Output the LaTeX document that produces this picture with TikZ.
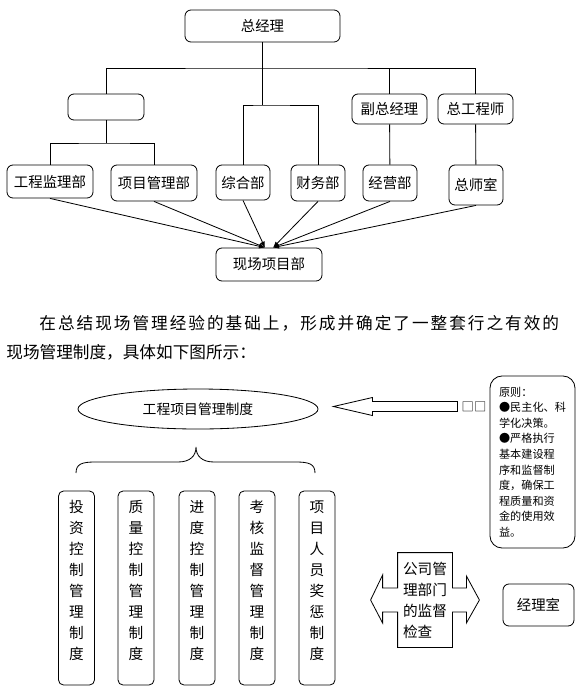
\documentclass[tikz,border=0pt]{standalone}
\usepackage{fontspec}
\setmainfont{Noto Sans CJK SC}
\newfontfamily\widecjk[LetterSpace=12]{Noto Sans CJK SC}
\usetikzlibrary{calc,arrows.meta,shapes.geometric}
\newcommand{\vt}[1]{\raisebox{1.4mm}[0pt][0pt]{\parbox{6mm}{\centering\fontsize{12.5pt}{17.9pt}\selectfont #1}}}

\begin{document}
\begin{tikzpicture}[x=0.3mm,y=-0.3mm,line width=0.7pt,
		orgbox/.style={draw,rounded corners=1.8mm,inner sep=0pt,font=\fontsize{12.3pt}{14pt}\selectfont},
		sz/.style 2 args={minimum width=#1*0.3mm,minimum height=#2*0.3mm},
		vbox/.style={draw,rounded corners=1.5mm,inner sep=0pt,minimum width=10.8mm,minimum height=58.2mm},
		toxc/.style={-{Latex[length=1.8mm,width=1.4mm]}}]
			%%%%% START %%%%%
			\useasboundingbox (0,0) rectangle (581,692);
			
			\node[orgbox,sz={155}{32}] (zjl) at (262.5,26) {总经理};
			\node[orgbox,sz={76}{26}] (kb) at (106,107) {};
			\node[orgbox,sz={75}{30}] (fzjl) at (389.5,109) {副总经理};
			\node[orgbox,sz={75}{30}] (zgcs) at (475.5,109) {总工程师};
			
			\node[orgbox,sz={86}{33}] (gcjl) at (50,181.5) {工程监理部};
			\node[orgbox,sz={86}{36}] (xmgl) at (154,183) {项目管理部};
			\node[orgbox,sz={54}{35}] (zhb) at (243,182.5) {综合部};
			\node[orgbox,sz={54}{36}] (cwb) at (318,183) {财务部};
			\node[orgbox,sz={54}{36}] (jyb) at (390,183) {经营部};
			\node[orgbox,sz={54}{40}] (zss) at (476,185) {总师室};
			\node[orgbox,sz={106}{33}] (xc) at (269,264.5) {现场项目部};
			
			\coordinate (bus) at (262.5,68);
			\coordinate (mid) at (262.5,105);
			\coordinate (lbus) at (106,143);
			\draw (zjl) -- (mid);
			\draw (kb) |- (bus) -| (zgcs);
			\draw (fzjl) -- (fzjl |- bus);
			\draw (zhb) |- (mid) -| (cwb);
			\draw (kb) -- (lbus);
			\draw (gcjl) |- (lbus) -| (xmgl);
			\draw (fzjl) -- (jyb);
			\draw (zgcs) -- (zss);
			
			\coordinate (inl) at ($(xc.north)+(-4,0)$);
			\coordinate (inr) at ($(xc.north)+(4,0)$);
			\foreach \s in {gcjl,xmgl,zhb} \draw[toxc] (\s.south) -- (inl);
			\foreach \s in {cwb,jyb,zss} \draw[toxc] (\s.south) -- (inr);
			
			\node[anchor=west,inner sep=0pt,font=\widecjk\fontsize{14.2pt}{16pt}\selectfont] (p1) at (39,323) {在总结现场管理经验的基础上，形成并确定了一整套行之有效的};
			\node[anchor=west,inner sep=0pt,font=\fontsize{14.2pt}{16pt}\selectfont] (p2) at (6,352) {现场管理制度，具体如下图所示：};
			
			\node[draw,ellipse,sz={240}{40},inner sep=0pt,font=\fontsize{11.8pt}{14pt}\selectfont] (zd) at (198,409) {工程项目管理制度};
			\node[inner sep=0pt,font=\fontsize{10.5pt}{12pt}\selectfont] (qk) at (474,406.5) {□□};
			\coordinate (jt) at ($(zd.east)+(15,-2.5)$);
			\draw (jt) -- ++(39,-9) -- ++(0,4) -- ++(85,0) -- ++(0,10) -- ++(-85,0) -- ++(0,4) -- cycle;
			
			\node[draw,rounded corners=3.6mm,sz={85}{172},inner sep=0pt,align=left,font=\fontsize{9.5pt}{13.3pt}\selectfont] (yz) at (532.5,462) {原则：\\●民主化、科\\学化决策。\\●严格执行\\基本建设程\\序和监督制\\度，确保工\\程质量和资\\金的使用效\\益。};
			
			\draw (76,473) .. controls (76,464) and (82,462) .. (95,462) -- (178,462) .. controls (190,462) and (196,456) .. (196,447) .. controls (196,456) and (202,462) .. (214,462) -- (296,462) .. controls (309,462) and (315,464) .. (315,473);
			
			\node[vbox] (tz) at (76.5,588) {\vt{投\\资\\控\\制\\管\\理\\制\\度}};
			\node[vbox] (zl) at (136,588) {\vt{质\\量\\控\\制\\管\\理\\制\\度}};
			\node[vbox] (jdz) at (197,588) {\vt{进\\度\\控\\制\\管\\理\\制\\度}};
			\node[vbox] (kh) at (257,588) {\vt{考\\核\\监\\督\\管\\理\\制\\度}};
			\node[vbox] (jcz) at (317,588) {\vt{项\\目\\人\\员\\奖\\惩\\制\\度}};
			
			\node[inner sep=0pt,sz={54}{94},align=left,font=\fontsize{12.5pt}{17.9pt}\selectfont] (jdjc) at (425,600) {公司管\\理部门\\的监督\\检查};
			\draw (jdjc.north west) -- (jdjc.north east) -- ($(jdjc.east)+(0,-12)$) -- ($(jdjc.east)+(14,-12)$) -- ($(jdjc.east)+(14,-24)$) -- ($(jdjc.east)+(27,0)$) -- ($(jdjc.east)+(14,23)$) -- ($(jdjc.east)+(14,12)$) -- ($(jdjc.east)+(0,12)$) -- (jdjc.south east) -- (jdjc.south west) -- ($(jdjc.west)+(0,12)$) -- ($(jdjc.west)+(-15,12)$) -- ($(jdjc.west)+(-15,23)$) -- ($(jdjc.west)+(-27,0)$) -- ($(jdjc.west)+(-15,-25)$) -- ($(jdjc.west)+(-15,-12)$) -- ($(jdjc.west)+(0,-12)$) -- cycle;
			
			\node[orgbox,sz={71}{42}] (jls) at (538.5,605) {经理室};
			
			%%%%% END %%%%%
\end{tikzpicture}
\end{document}
